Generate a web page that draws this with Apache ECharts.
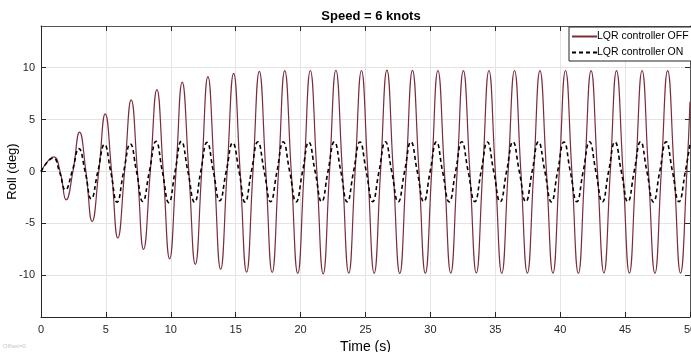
<!DOCTYPE html>
<html>
<head>
	<meta charset="UTF-8">
	<title>Speed = 6 knots</title>
	<script src="https://cdn.jsdelivr.net/npm/echarts@6/dist/echarts.min.js"></script>
	<style>
		html, body { margin: 0; padding: 0; background: #fff; }
	</style>
</head>
<body>
	<div id="chart" style="width: 691px; height: 352px;"></div>
	<script type="text/javascript">
		// roll angle (deg) vs time (s): extrema and zero crossings
		var rollOff = [
			[0, 0], [0.99, 1.4], [1.47, 0], [1.94, -2.73], [2.46, 0], [2.97, 3.78], [3.46, 0], [3.94, -4.8], [4.45, 0], [4.95, 5.55],
			[5.44, 0], [5.92, -6.4], [6.44, 0], [6.95, 6.9], [7.43, 0], [7.90, -7.5], [8.42, 0], [8.93, 7.88], [9.42, 0], [9.91, -8.4],
			[10.40, 0], [10.88, 8.6], [11.39, 0], [11.89, -8.94], [12.38, 0], [12.86, 9.13], [13.35, 0], [13.84, -9.42], [14.34, 0], [14.84, 9.45],
			[15.34, 0], [15.84, -9.68], [16.33, 0], [16.82, 9.64], [17.32, 0], [17.81, -9.72], [18.30, 0], [18.78, 9.7], [19.28, 0], [19.78, -9.8],
			[20.27, 0], [20.75, 9.72], [21.25, 0], [21.74, -9.85], [22.23, 0], [22.72, 9.74], [23.22, 0], [23.71, -9.78], [24.20, 0], [24.69, 9.72],
			[25.18, 0], [25.67, -9.8], [26.16, 0], [26.65, 9.75], [27.14, 0], [27.64, -9.82], [28.13, 0], [28.62, 9.73], [29.12, 0], [29.61, -9.8],
			[30.10, 0], [30.58, 9.72], [31.08, 0], [31.57, -9.78], [32.06, 0], [32.54, 9.7], [33.04, 0], [33.54, -9.76], [34.03, 0], [34.51, 9.72],
			[35.00, 0], [35.50, -9.8], [35.99, 0], [36.48, 9.72], [36.97, 0], [37.47, -9.78], [37.96, 0], [38.44, 9.7], [38.94, 0], [39.44, -9.78],
			[39.93, 0], [40.41, 9.72], [40.90, 0], [41.40, -9.8], [41.89, 0], [42.38, 9.7], [42.87, 0], [43.37, -9.76], [43.86, 0], [44.34, 9.7],
			[44.84, 0], [45.33, -9.78], [45.82, 0], [46.31, 9.72], [46.80, 0], [47.30, -9.8], [47.79, 0], [48.28, 9.7], [48.78, 0], [49.27, -9.78],
			[49.76, 0], [50, 6.7]
		];
		var rollOn = [
			[0, 0], [0.95, 1.3], [1.42, 0], [1.88, -1.76], [2.40, 0], [2.92, 2.2], [3.40, 0], [3.87, -2.63], [4.38, 0], [4.89, 2.6],
			[5.37, 0], [5.86, -2.95], [6.37, 0], [6.88, 2.66], [7.36, 0], [7.84, -2.88], [8.35, 0], [8.86, 2.9], [9.35, 0], [9.85, -3.0],
			[10.33, 0], [10.81, 2.9], [11.32, 0], [11.83, -2.95], [12.31, 0], [12.79, 2.8], [13.28, 0], [13.77, -2.82], [14.27, 0], [14.77, 2.75],
			[15.26, 0], [15.72, -2.95], [16.21, 0], [16.70, 2.85], [17.20, 0], [17.69, -2.9], [18.18, 0], [18.66, 2.85], [19.16, 0], [19.66, -2.92],
			[20.15, 0], [20.63, 2.82], [21.12, 0], [21.62, -2.9], [22.11, 0], [22.60, 2.85], [23.10, 0], [23.59, -2.92], [24.08, 0], [24.57, 2.84],
			[25.06, 0], [25.55, -2.9], [26.04, 0], [26.53, 2.86], [27.02, 0], [27.52, -2.92], [28.01, 0], [28.50, 2.84], [28.99, 0], [29.49, -2.9],
			[29.98, 0], [30.46, 2.85], [30.94, 0], [31.45, -2.92], [31.94, 0], [32.42, 2.86], [32.91, 0], [33.42, -2.9], [33.91, 0], [34.39, 2.84],
			[34.88, 0], [35.38, -2.92], [35.87, 0], [36.36, 2.86], [36.85, 0], [37.35, -2.9], [37.84, 0], [38.32, 2.85], [38.82, 0], [39.32, -2.92],
			[39.80, 0], [40.29, 2.84], [40.78, 0], [41.28, -2.9], [41.77, 0], [42.26, 2.86], [42.75, 0], [43.25, -2.92], [43.73, 0], [44.22, 2.84],
			[44.71, 0], [45.21, -2.9], [45.70, 0], [46.19, 2.86], [46.68, 0], [47.18, -2.92], [47.67, 0], [48.16, 2.85], [48.65, 0], [49.15, -2.9],
			[49.64, 0], [50, 2.65]
		];
		var seriesNames = ['LQR controller OFF', 'LQR controller ON'];
		var yTicks = [-10, -5, 0, 5, 10];

		var font = 'Liberation Sans, Arial, Helvetica, sans-serif';
		var axisColor = '#262626';
		var gridColor = '#e4e4e4';

		var my_chart = echarts.init(document.getElementById('chart'), null, { renderer: 'canvas' });
		var option = {
			backgroundColor: '#fff',
			animation: false,
			textStyle: { fontFamily: font },
			title: {
				text: 'Speed = 6 knots',
				left: 366,
				top: 5,
				textAlign: 'center',
				textStyle: { fontSize: 13, fontWeight: 'bold', color: '#000', fontFamily: font }
			},
			legend: {
				data: seriesNames,
				orient: 'vertical',
				left: 569,
				top: 27,
				backgroundColor: '#fff',
				borderColor: axisColor,
				borderWidth: 1,
				borderRadius: 0,
				padding: [4, 10, 3, 2],
				itemGap: 5,
				itemWidth: 25,
				itemHeight: 10,
				itemStyle: { opacity: 0 },
				textStyle: { fontSize: 10.5, color: '#000', fontFamily: font, padding: [0, 0, 0, -5] }
			},
			grid: { left: 41, right: 1, top: 26, bottom: 35, outerBoundsMode: 'none', containLabel: false },
			xAxis: [{
				type: 'value',
				min: 0,
				max: 50,
				interval: 5,
				name: 'Time (s)',
				nameLocation: 'middle',
				nameGap: 22,
				nameTextStyle: { fontSize: 14, color: '#000', fontFamily: font },
				axisLine: { onZero: false, lineStyle: { color: axisColor, width: 1 } },
				axisTick: { inside: true, length: 5, lineStyle: { color: axisColor } },
				axisLabel: { fontSize: 11, color: axisColor, margin: 7, fontFamily: font },
				splitLine: { show: true, lineStyle: { color: gridColor, width: 1 } }
			}, {
				type: 'value',
				position: 'top',
				min: 0,
				max: 50,
				interval: 5,
				axisLine: { show: true, onZero: false, lineStyle: { color: '#555', width: 1 } },
				axisTick: { inside: true, length: 5, lineStyle: { color: axisColor } },
				axisLabel: { show: false },
				splitLine: { show: false }
			}],
			yAxis: [{
				type: 'value',
				min: -14,
				max: 14,
				name: 'Roll (deg)',
				nameLocation: 'middle',
				nameGap: 29,
				nameRotate: 90,
				nameMoveOverlap: false,
				nameTextStyle: { fontSize: 13, color: '#000', fontFamily: font, verticalAlign: 'middle' },
				axisLine: { show: true, onZero: false, lineStyle: { color: axisColor, width: 1 } },
				axisTick: { show: true, inside: true, length: 5, customValues: yTicks, lineStyle: { color: axisColor } },
				axisLabel: { fontSize: 11, color: axisColor, margin: 6, customValues: yTicks, fontFamily: font },
				splitLine: { show: true, lineStyle: { color: gridColor, width: 1 } }
			}, {
				type: 'value',
				position: 'right',
				min: -14,
				max: 14,
				axisLine: { show: true, onZero: false, lineStyle: { color: '#555', width: 1 } },
				axisTick: { show: true, inside: true, length: 5, customValues: yTicks, lineStyle: { color: axisColor } },
				axisLabel: { show: false },
				splitLine: { show: false }
			}],
			series: [{
				name: seriesNames[0],
				type: 'line',
				data: rollOff,
				smooth: 0.5,
				symbol: 'none',
				lineStyle: { color: '#7b2c3a', width: 1.2 },
				itemStyle: { color: '#7b2c3a' },
				z: 2
			}, {
				name: seriesNames[1],
				type: 'line',
				data: rollOn,
				smooth: 0.5,
				symbol: 'none',
				lineStyle: { color: '#000', width: 1.6, type: [4, 3] },
				itemStyle: { color: '#000' },
				z: 3
			}],
			graphic: [{
				type: 'text',
				left: 3,
				top: 343,
				style: { text: 'Offset=0', fontSize: 6, fill: '#c4c4c4', fontFamily: font }
			}]
		};
		my_chart.setOption(option);
	</script>
</body>
</html>
